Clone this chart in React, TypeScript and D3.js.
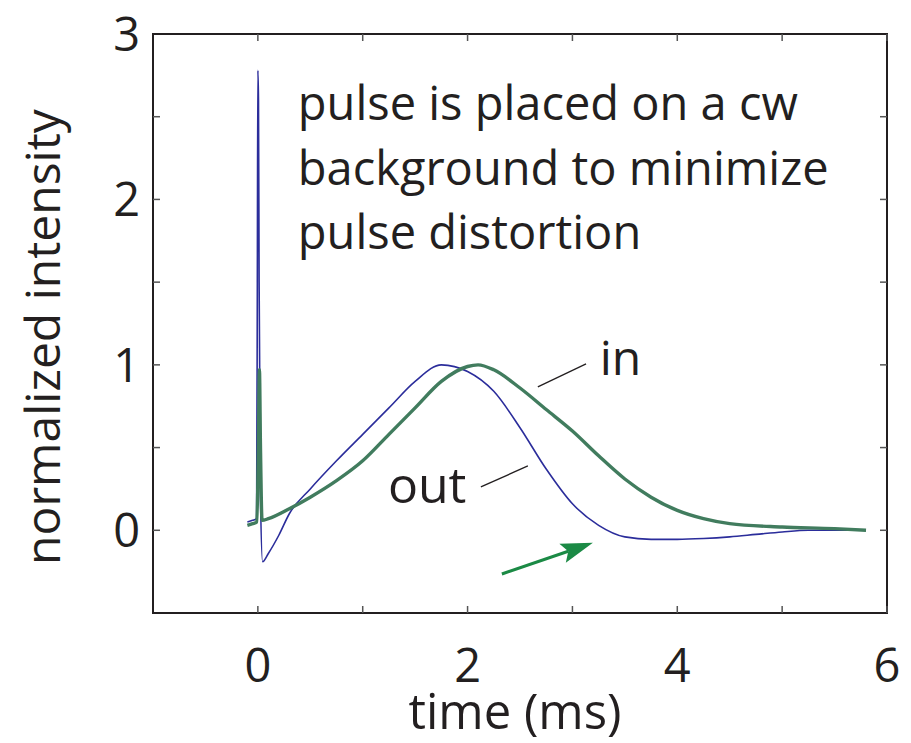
import React from "react";
import * as d3 from "d3";

// Pulse shapes, normalized intensity vs time (ms)
const outTime = [-0.1, -0.05, -0.012, -0.005, 0.0, 0.006, 0.012, 0.025, 0.045, 0.1, 0.2, 0.3, 0.5, 0.75, 1.0, 1.25, 1.5, 1.75, 2.0, 2.25, 2.5, 2.75, 3.0, 3.25, 3.5, 3.75, 4.0, 4.25, 4.5, 4.75, 5.0, 5.25, 5.5, 5.8];
const outValue = [0.05, 0.06, 0.07, 1.5, 2.78, 2.6, 1.5, 0.2, -0.19, -0.14, -0.03, 0.1, 0.25, 0.42, 0.58, 0.74, 0.9, 1.0, 0.96, 0.84, 0.62, 0.37, 0.16, 0.03, -0.04, -0.055, -0.055, -0.05, -0.04, -0.025, -0.01, 0.0, 0.0, 0.0];

const inTime = [-0.1, -0.05, -0.01, 0.005, 0.015, 0.025, 0.04, 0.1, 0.3, 0.5, 0.75, 1.0, 1.25, 1.5, 1.75, 2.0, 2.1, 2.25, 2.5, 2.75, 3.0, 3.25, 3.5, 3.75, 4.0, 4.25, 4.5, 5.0, 5.5, 5.8];
const inValue = [0.03, 0.04, 0.05, 0.5, 0.97, 0.5, 0.06, 0.07, 0.13, 0.2, 0.3, 0.42, 0.58, 0.74, 0.9, 0.99, 1.0, 0.97, 0.86, 0.73, 0.6, 0.45, 0.31, 0.2, 0.12, 0.07, 0.04, 0.02, 0.01, 0.0];

const xTicks = [0, 1, 2, 3, 4, 5, 6];
const xTickLabels = [0, 2, 4, 6];
const yTicks = [0, 0.5, 1, 1.5, 2, 2.5];
const yTickLabels = [0, 1, 2, 3];

const noteLines = ["pulse is placed on a cw", "background to minimize", "pulse distortion"];

const W = 911;
const H = 743;
const FONT = "'Open Sans', 'Noto Sans', sans-serif";
const INK = "#231f20";

export default function App() {
  const x = d3.scaleLinear().domain([-1, 6]).range([153, 887]);
  const y = d3.scaleLinear().domain([-0.5, 3]).range([613, 34]);

  const line = d3
    .line<[number, number]>()
    .x((d) => x(d[0]))
    .y((d) => y(d[1]))
    .curve(d3.curveMonotoneX);

  const outPts = outTime.map((t, i) => [t, outValue[i]] as [number, number]);
  const inPts = inTime.map((t, i) => [t, inValue[i]] as [number, number]);

  // annotation anchors in data units
  const inLabel = { t: 3.26, v: 0.94 };
  const inLeader = [[2.67, 0.867], [3.13, 1.006]];
  const outLabel = { t: 1.24, v: 0.166 };
  const outLeader = [[2.127, 0.262], [2.575, 0.389]];
  const arrow = [[2.327, -0.264], [3.195, -0.076]];
  const noteStart = { t: 0.381, v: 2.48, step: 0.39 };

  const [a0, a1] = arrow;
  const ax0 = x(a0[0]);
  const ay0 = y(a0[1]);
  const ax1 = x(a1[0]);
  const ay1 = y(a1[1]);
  const ang = Math.atan2(ay1 - ay0, ax1 - ax0);
  const headLen = 32;
  const headW = 10;
  const bx = ax1 - headLen * Math.cos(ang);
  const by = ay1 - headLen * Math.sin(ang);
  const px = -Math.sin(ang);
  const py = Math.cos(ang);
  const nx = bx + 6 * Math.cos(ang);
  const ny = by + 6 * Math.sin(ang);
  const head = `M${ax1},${ay1} L${bx + px * headW},${by + py * headW} L${nx},${ny} L${bx - px * headW},${by - py * headW} Z`;

  return (
    <svg
      width={W}
      height={H}
      style={{ position: "absolute", left: 0, top: 0, background: "#fff" }}
      fontFamily={FONT}
    >
      {/* traces */}
      <path d={line(outPts) ?? ""} fill="none" stroke="#2b2d9b" strokeWidth={1.6} />
      <path d={line(inPts) ?? ""} fill="none" stroke="#417c5e" strokeWidth={3.4} strokeLinejoin="round" />

      {/* axes box */}
      <rect x={153} y={34} width={887 - 153} height={613 - 34} fill="none" stroke={INK} strokeWidth={2} />

      {xTicks.map((t) => (
        <g key={"xt" + t} stroke="#555" strokeWidth={1.5}>
          <line x1={x(t)} x2={x(t)} y1={613} y2={606} />
          <line x1={x(t)} x2={x(t)} y1={34} y2={41} />
        </g>
      ))}
      {yTicks.map((v) => (
        <g key={"yt" + v} stroke="#555" strokeWidth={1.5}>
          <line x1={153} x2={160} y1={y(v)} y2={y(v)} />
          <line x1={887} x2={880} y1={y(v)} y2={y(v)} />
        </g>
      ))}

      {xTickLabels.map((t) => (
        <text key={"xl" + t} x={x(t)} y={682} textAnchor="middle" fontSize={47} fill={INK}>
          {t}
        </text>
      ))}
      {yTickLabels.map((v) => (
        <text key={"yl" + v} x={140} y={y(v) + 17} textAnchor="end" fontSize={47} fill={INK}>
          {v}
        </text>
      ))}

      <text x={515} y={729} textAnchor="middle" fontSize={49} fill={INK}>
        time (ms)
      </text>
      <text
        transform={`translate(60,337) rotate(-90)`}
        textAnchor="middle"
        fontSize={48}
        fill={INK}
      >
        normalized intensity
      </text>

      {noteLines.map((s, i) => (
        <text
          key={"n" + i}
          x={x(noteStart.t)}
          y={y(noteStart.v - i * noteStart.step)}
          fontSize={47}
          fill={INK}
        >
          {s}
        </text>
      ))}

      <text x={x(inLabel.t)} y={y(inLabel.v)} fontSize={48} fill={INK}>
        in
      </text>
      <line
        x1={x(inLeader[0][0])}
        y1={y(inLeader[0][1])}
        x2={x(inLeader[1][0])}
        y2={y(inLeader[1][1])}
        stroke={INK}
        strokeWidth={1.3}
      />
      <text x={x(outLabel.t)} y={y(outLabel.v)} fontSize={50} fill={INK}>
        out
      </text>
      <line
        x1={x(outLeader[0][0])}
        y1={y(outLeader[0][1])}
        x2={x(outLeader[1][0])}
        y2={y(outLeader[1][1])}
        stroke={INK}
        strokeWidth={1.3}
      />

      <line x1={ax0} y1={ay0} x2={nx} y2={ny} stroke="#1b8a45" strokeWidth={3} />
      <path d={head} fill="#1b8a45" />
    </svg>
  );
}
